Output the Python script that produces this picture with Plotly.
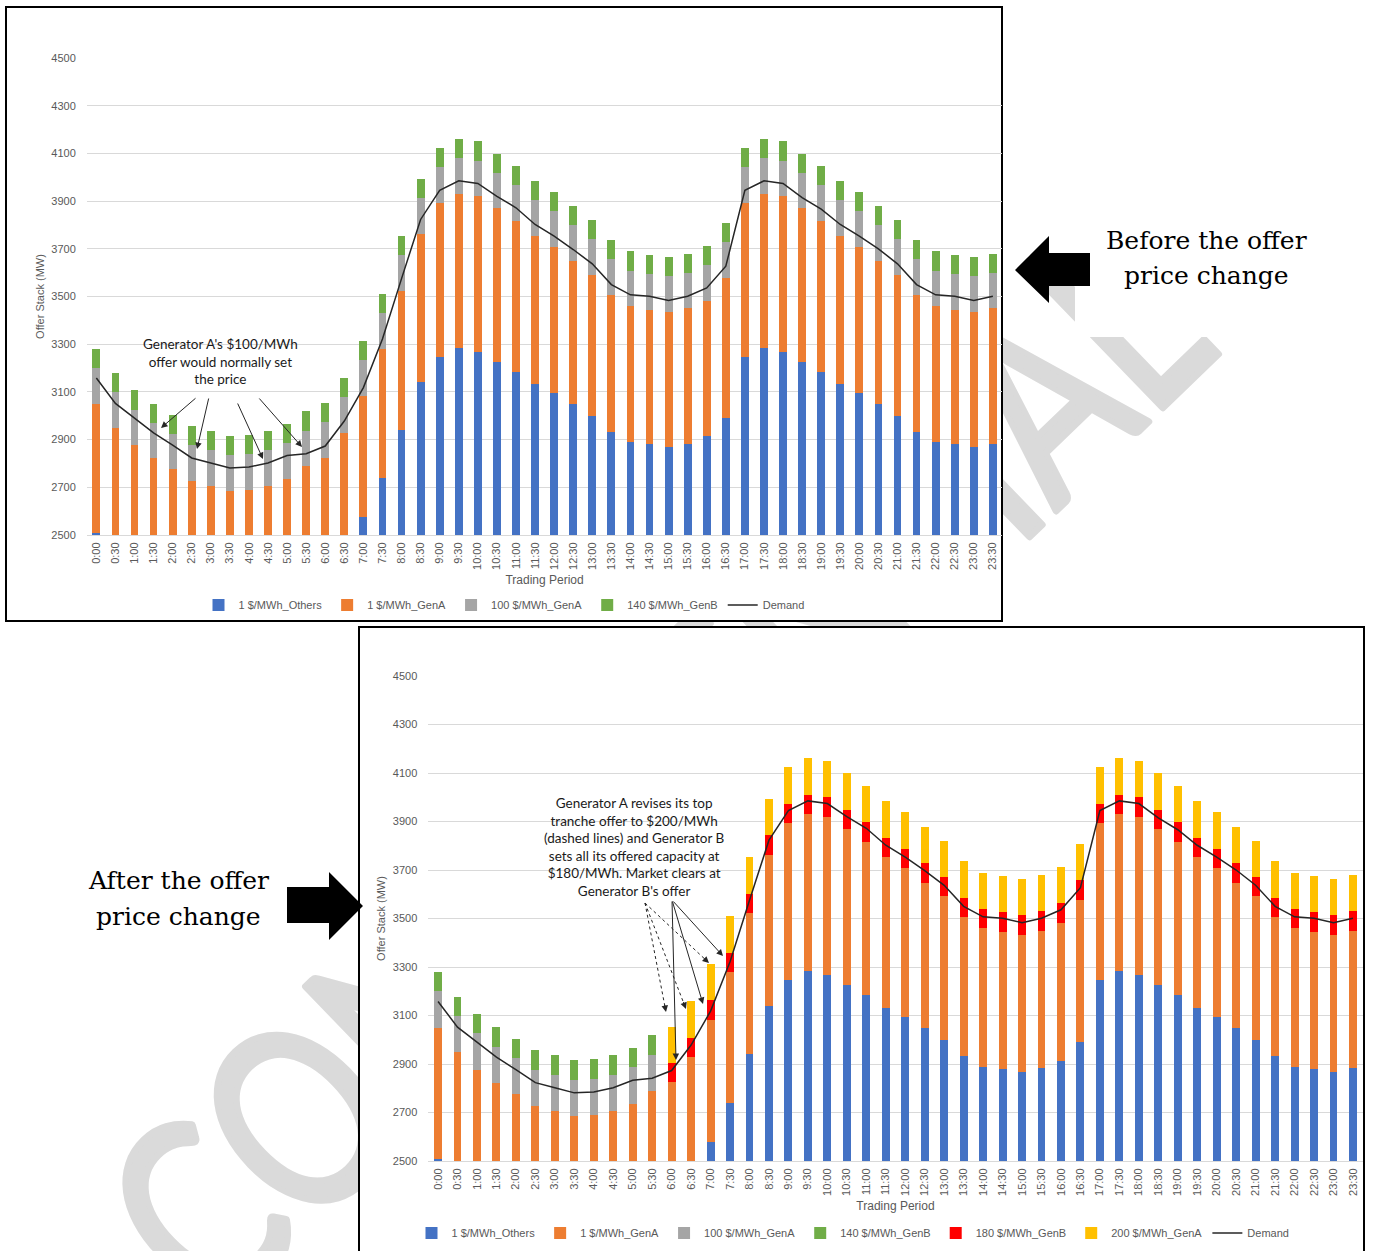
import base64
import plotly.graph_objects as go

W, H = 1373, 1251

# ---- data -------------------------------------------------------------
periods = ["0:00", "0:30", "1:00", "1:30", "2:00", "2:30", "3:00", "3:30",
           "4:00", "4:30", "5:00", "5:30", "6:00", "6:30", "7:00", "7:30",
           "8:00", "8:30", "9:00", "9:30", "10:00", "10:30", "11:00", "11:30",
           "12:00", "12:30", "13:00", "13:30", "14:00", "14:30", "15:00", "15:30",
           "16:00", "16:30", "17:00", "17:30", "18:00", "18:30", "19:00", "19:30",
           "20:00", "20:30", "21:00", "21:30", "22:00", "22:30", "23:00", "23:30"]

others_1 = [2507, 2408, 2338, 2283, 2238, 2190, 2170, 2150, 2153, 2170, 2200, 2250,
            2285, 2385, 2577, 2740, 2942, 3141, 3248, 3282, 3269, 3227, 3185, 3133,
            3095, 3049, 2998, 2931, 2889, 2880, 2868, 2883, 2914, 2990, 3248, 3282,
            3269, 3227, 3185, 3133, 3095, 3049, 2998, 2931, 2889, 2880, 2868, 2883]

gen_a_1 = [542, 540, 538, 538, 537, 537, 536, 535, 536, 536, 536, 538,
           539, 543, 505, 539, 580, 622, 645, 649, 651, 642, 632, 620,
           613, 599, 593, 575, 570, 565, 566, 567, 569, 587, 645, 649,
           651, 642, 632, 620, 613, 599, 593, 575, 570, 565, 566, 567]

# offers before the price change
gen_a_100_before = [150, 150, 150, 150, 150, 150, 150, 150, 150, 150, 150, 150,
                    150, 150, 150, 150, 150, 150, 150, 150, 150, 150, 150, 150,
                    150, 150, 150, 150, 150, 150, 150, 150, 150, 150, 150, 150,
                    150, 150, 150, 150, 150, 150, 150, 150, 150, 150, 150, 150]
gen_b_140_before = [80, 80, 80, 80, 80, 80, 80, 80, 80, 80, 80, 80,
                    80, 80, 80, 80, 80, 80, 80, 80, 80, 80, 80, 80,
                    80, 80, 80, 80, 80, 80, 80, 80, 80, 80, 80, 80,
                    80, 80, 80, 80, 80, 80, 80, 80, 80, 80, 80, 80]

# offers after the price change (from 6:00 onwards)
gen_a_100_after = [150, 150, 150, 150, 150, 150, 150, 150, 150, 150, 150, 150,
                   0, 0, 0, 0, 0, 0, 0, 0, 0, 0, 0, 0,
                   0, 0, 0, 0, 0, 0, 0, 0, 0, 0, 0, 0,
                   0, 0, 0, 0, 0, 0, 0, 0, 0, 0, 0, 0]
gen_b_140_after = [80, 80, 80, 80, 80, 80, 80, 80, 80, 80, 80, 80,
                   0, 0, 0, 0, 0, 0, 0, 0, 0, 0, 0, 0,
                   0, 0, 0, 0, 0, 0, 0, 0, 0, 0, 0, 0,
                   0, 0, 0, 0, 0, 0, 0, 0, 0, 0, 0, 0]
gen_b_180_after = [0, 0, 0, 0, 0, 0, 0, 0, 0, 0, 0, 0,
                   80, 80, 80, 80, 80, 80, 80, 80, 80, 80, 80, 80,
                   80, 80, 80, 80, 80, 80, 80, 80, 80, 80, 80, 80,
                   80, 80, 80, 80, 80, 80, 80, 80, 80, 80, 80, 80]
gen_a_200_after = [0, 0, 0, 0, 0, 0, 0, 0, 0, 0, 0, 0,
                   150, 150, 150, 150, 150, 150, 150, 150, 150, 150, 150, 150,
                   150, 150, 150, 150, 150, 150, 150, 150, 150, 150, 150, 150,
                   150, 150, 150, 150, 150, 150, 150, 150, 150, 150, 150, 150]

demand = [3158, 3052, 2990, 2928, 2877, 2823, 2802, 2781, 2785, 2802, 2833, 2841,
          2873, 2978, 3118, 3322, 3575, 3823, 3945, 3985, 3974, 3920, 3872, 3802,
          3753, 3697, 3637, 3550, 3507, 3501, 3483, 3501, 3536, 3627, 3945, 3985,
          3974, 3915, 3866, 3802, 3753, 3700, 3637, 3550, 3507, 3501, 3483, 3501]

y_ticks = [2500, 2700, 2900, 3100, 3300, 3500, 3700, 3900, 4100, 4300, 4500]

# ---- style --------------------------------------------------------------
C_OTHERS, C_GENA1, C_GENA100 = "#4472C4", "#ED7D31", "#A5A5A5"
C_GENB140, C_GENB180, C_GENA200 = "#70AD47", "#FF0000", "#FFC000"
C_DEMAND = "#262626"
AX_FONT = "Liberation Sans, Arial, sans-serif"
NOTE_FONT = "Lato, Open Sans, sans-serif"
SLAB_FONT = "DejaVu Serif, serif"
GREY_TXT = "#595959"


def fx(px):
    return px / W


def fy(py):
    return 1 - py / H


fig = go.Figure()

top_series = [
    ("1 $/MWh_Others", others_1, C_OTHERS),
    ("1 $/MWh_GenA", gen_a_1, C_GENA1),
    ("100 $/MWh_GenA", gen_a_100_before, C_GENA100),
    ("140 $/MWh_GenB", gen_b_140_before, C_GENB140),
]
for name, vals, col in top_series:
    fig.add_trace(go.Bar(x=periods, y=vals, name=name, marker=dict(color=col, line=dict(width=0)),
                         xaxis="x", yaxis="y", legend="legend"))
fig.add_trace(go.Scatter(x=periods, y=demand, name="Demand", mode="lines",
                         line=dict(color=C_DEMAND, width=1.5), xaxis="x", yaxis="y", legend="legend"))

bottom_series = [
    ("1 $/MWh_Others", others_1, C_OTHERS),
    ("1 $/MWh_GenA", gen_a_1, C_GENA1),
    ("100 $/MWh_GenA", gen_a_100_after, C_GENA100),
    ("140 $/MWh_GenB", gen_b_140_after, C_GENB140),
    ("180 $/MWh_GenB", gen_b_180_after, C_GENB180),
    ("200 $/MWh_GenA", gen_a_200_after, C_GENA200),
]
for name, vals, col in bottom_series:
    fig.add_trace(go.Bar(x=periods, y=vals, name=name, marker=dict(color=col, line=dict(width=0)),
                         xaxis="x2", yaxis="y2", legend="legend2"))
fig.add_trace(go.Scatter(x=periods, y=demand, name="Demand", mode="lines",
                         line=dict(color=C_DEMAND, width=1.5), xaxis="x2", yaxis="y2", legend="legend2"))


def xaxis_style(domain, anchor):
    return dict(domain=domain, anchor=anchor, type="category", tickangle=-90,
                tickfont=dict(family=AX_FONT, size=11, color=GREY_TXT),
                showgrid=False, zeroline=False, showline=True, linecolor="#d9d9d9",
                ticks="", ticklabelstandoff=2, automargin=False,
                title=dict(text="Trading Period", font=dict(family=AX_FONT, size=12, color=GREY_TXT),
                           standoff=6))


def yaxis_style(domain, anchor):
    return dict(domain=domain, anchor=anchor, range=[2500, 4500], tickvals=y_ticks,
                tickfont=dict(family=AX_FONT, size=11, color=GREY_TXT),
                showgrid=True, gridcolor="#d9d9d9", gridwidth=1, zeroline=False,
                showline=False, ticks="", ticklabelstandoff=10, automargin=False,
                title=dict(text="Offer Stack (MW)", font=dict(family=AX_FONT, size=11, color=GREY_TXT),
                           standoff=4))


legend_common = dict(orientation="h", xanchor="center", yanchor="middle",
                     xref="container", yref="container",
                     font=dict(family=AX_FONT, size=11, color=GREY_TXT),
                     bgcolor="rgba(0,0,0,0)", traceorder="normal", itemwidth=30)

# ---- watermark ----------------------------------------------------------
svg = (f"<svg xmlns='http://www.w3.org/2000/svg' width='{W}' height='{H}' viewBox='0 0 {W} {H}'>"
       "<text x='214' y='1324' transform='rotate(-44 214 1324)' "
       "font-family='Lato, DejaVu Sans, sans-serif' font-size='250' fill='#dadada' "
       "stroke='#dadada' stroke-width='7' stroke-linejoin='round' "
       "textLength='1400' lengthAdjust='spacingAndGlyphs'>CONFIDENTIAL</text></svg>")
svg_uri = "data:image/svg+xml;base64," + base64.b64encode(svg.encode("utf-8")).decode("ascii")

# ---- shapes -------------------------------------------------------------
shapes = []


def rect(x0, y0, x1, y1, fill="white", line_color=None, lw=0, layer="below"):
    shapes.append(dict(type="rect", xref="paper", yref="paper",
                       x0=fx(x0), x1=fx(x1), y0=fy(y1), y1=fy(y0),
                       fillcolor=fill, layer=layer,
                       line=dict(color=line_color or "rgba(0,0,0,0)", width=lw)))


def poly(points, color="black"):
    path = "M " + " L ".join(f"{fx(px):.5f},{fy(py):.5f}" for px, py in points) + " Z"
    shapes.append(dict(type="path", xref="paper", yref="paper", path=path,
                       fillcolor=color, line=dict(width=0), layer="above"))


# text box backgrounds and chart frames
rect(1075, 205, 1335, 337)
rect(75, 855, 285, 945)
rect(6, 7, 1002, 621, line_color="black", lw=2)
rect(359, 627, 1364, 1262, line_color="black", lw=2)

# block arrows
poly([(1015, 270), (1049, 236), (1049, 253), (1090, 253), (1090, 286), (1049, 286), (1049, 303)])
poly([(287, 887), (329, 887), (329, 872), (363, 906), (329, 940), (329, 923), (287, 923)])

# ---- annotations --------------------------------------------------------
annotations = []


def label(text, x, y, font, size, color="black", align="center"):
    annotations.append(dict(text=text, x=fx(x), y=fy(y), xref="paper", yref="paper",
                            xanchor="center", yanchor="middle", showarrow=False, align=align,
                            font=dict(family=font, size=size, color=color)))


def arrow(tail, head, dashed=False):
    (tx, ty), (hx, hy) = tail, head
    if dashed:
        dx, dy = hx - tx, hy - ty
        n = (dx * dx + dy * dy) ** 0.5
        ux, uy = dx / n, dy / n
        shapes.append(dict(type="line", xref="paper", yref="paper",
                           x0=fx(tx), y0=fy(ty), x1=fx(hx - ux * 4), y1=fy(hy - uy * 4),
                           line=dict(color=C_DEMAND, width=1, dash="dot"), layer="above"))
        tx, ty = hx - ux * 9, hy - uy * 9
    annotations.append(dict(text="", x=fx(hx), y=fy(hy), xref="paper", yref="paper",
                            ax=tx - hx, ay=ty - hy, axref="pixel", ayref="pixel",
                            showarrow=True, arrowhead=2, arrowsize=1.3, arrowwidth=1,
                            arrowcolor=C_DEMAND, standoff=0))


label("Before the offer", 1206, 240, SLAB_FONT, 25)
label("price change", 1206, 276, SLAB_FONT, 25)
label("After the offer", 179, 880, SLAB_FONT, 25)
label("price change", 179, 916, SLAB_FONT, 25)

label("Generator A's $100/MWh<br>offer would normally set<br>the price", 220, 361, NOTE_FONT, 13.5,
      color="#1a1a1a")
for t, h in [((197, 397), (161, 428)), ((209, 397), (197, 449)),
             ((237, 402), (263, 459)), ((258, 397), (302, 447))]:
    arrow(t, h)

label("Generator A revises its top<br>tranche offer to $200/MWh<br>(dashed lines) and Generator B<br>"
      "sets all its offered capacity at<br>$180/MWh. Market clears at<br>Generator B's offer",
      634, 847, NOTE_FONT, 13.5, color="#1a1a1a")
for h in [(676, 1060), (703, 1004), (723, 956)]:
    arrow((672, 900), h)
for h in [(666, 1012), (686, 1009), (709, 963)]:
    arrow((645, 903), h, dashed=True)

fig.update_layout(
    template="none",
    width=W, height=H, autosize=False,
    margin=dict(l=0, r=0, t=0, b=0, autoexpand=False),
    paper_bgcolor="white", plot_bgcolor="rgba(0,0,0,0)",
    font=dict(family=AX_FONT, color=GREY_TXT),
    barmode="stack", bargap=0.59,
    showlegend=True,
    xaxis=xaxis_style([fx(86.8), fx(1002.4)], "y"),
    yaxis=yaxis_style([fy(535), fy(58)], "x"),
    xaxis2=xaxis_style([fx(428.3), fx(1362.7)], "y2"),
    yaxis2=yaxis_style([fy(1161), fy(676)], "x2"),
    legend=dict(legend_common, x=fx(504), y=fy(605)),
    legend2=dict(legend_common, x=fx(853), y=fy(1233)),
    images=[dict(source=svg_uri, xref="paper", yref="paper", x=0, y=1, sizex=1, sizey=1,
                 xanchor="left", yanchor="top", sizing="stretch", layer="below")],
    shapes=shapes,
    annotations=annotations,
)

fig.write_html("out.html")
